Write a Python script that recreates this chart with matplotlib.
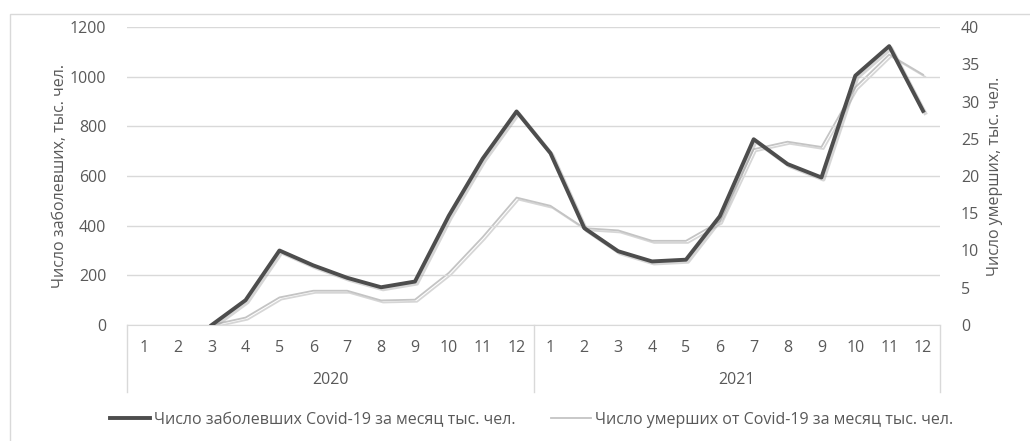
import numpy as np
import matplotlib
matplotlib.use("Agg")
import matplotlib.pyplot as plt
import matplotlib.patheffects as pe
from matplotlib.patches import Rectangle
from matplotlib.lines import Line2D
from matplotlib.transforms import blended_transform_factory

plt.rcParams['font.family'] = ['Open Sans', 'DejaVu Sans']

years = ["2020", "2021"]
months = [str(m) for m in range(1, 13)]

# monthly new cases, thousand people (left axis)
cases = [np.nan, np.nan, 0, 100, 300, 240, 190, 152, 175, 440, 670, 860,
         692, 390, 297, 256, 263, 438, 748, 648, 594, 1004, 1123, 862]
# monthly deaths, thousand people (right axis)
deaths = [np.nan, np.nan, 0, 1.0, 3.7, 4.6, 4.6, 3.3, 3.4, 7.0, 11.8, 17.1,
          16.0, 13.0, 12.7, 11.3, 11.3, 13.9, 23.6, 24.6, 23.9, 31.9, 36.3, 33.6]

label_cases = "Число заболевших Covid-19 за месяц тыс. чел."
label_deaths = "Число умерших от Covid-19 за месяц тыс. чел."

TXT = "#595959"
GRID = "#d9d9d9"
FS = 11.5
C_CASES = "#4d4d4d"
C_DEATHS = "#c4c4c4"

W, H = 1030, 441
fig = plt.figure(figsize=(W / 100, H / 100), dpi=100)
fig.patches.append(Rectangle((10 / W, -0.1), 1.2, 1 - 14 / H + 0.1,
                             transform=fig.transFigure, fill=False,
                             edgecolor="#d9d9d9", lw=1.0))

x0, x1, ytop, ybot = 127, 940, 27, 325
ax = fig.add_axes([x0 / W, 1 - ybot / H, (x1 - x0) / W, (ybot - ytop) / H])
ax2 = ax.twinx()

x = np.arange(len(cases))
ax.set_xlim(-0.5, len(cases) - 0.5)

ax.set_ylim(0, 1200)
ax.set_yticks(np.arange(0, 1201, 200))
ax2.set_ylim(0, 40)
ax2.set_yticks(np.arange(0, 41, 5))

ax.yaxis.grid(True, color=GRID, lw=1.0)
ax.set_axisbelow(True)
for a in (ax, ax2):
    for s in a.spines.values():
        s.set_visible(False)
    a.tick_params(axis="y", length=0, labelsize=FS, labelcolor=TXT, pad=15)
ax.spines["bottom"].set_visible(True)
ax.spines["bottom"].set_color(GRID)

ax.set_xticks(x)
ax.set_xticklabels(months * 2)
ax.tick_params(axis="x", length=0, labelsize=FS, labelcolor=TXT, pad=11)

shadow = [pe.SimpleLineShadow(offset=(1.5, -1.5), shadow_color="#9a9a9a", alpha=0.4), pe.Normal()]
ax2.plot(x, deaths, color=C_DEATHS, lw=1.3, path_effects=shadow, zorder=3)
ax.plot(x, cases, color=C_CASES, lw=2.8, path_effects=shadow, zorder=4)
ax.set_zorder(ax2.get_zorder() + 1)
ax.patch.set_visible(False)

ax.set_ylabel("Число заболевших, тыс. чел.", color=TXT, fontsize=FS, labelpad=1)
ax2.set_ylabel("Число умерших, тыс. чел.", color=TXT, fontsize=FS, labelpad=6)

# two-level category axis: separators and year labels
tr = blended_transform_factory(ax.transData, ax.transAxes)
drop = (392 - ybot) / (ybot - ytop)
for xb in (-0.5, 11.5, 23.5):
    ax.plot([xb, xb], [0, -drop], transform=tr, color=GRID, lw=1.0, clip_on=False)
year_y = -(380 - ybot) / (ybot - ytop)
for i, yr in enumerate(years):
    ax.text(5.5 + 12 * i, year_y, yr, transform=tr, ha="center", va="center",
            fontsize=FS, color=TXT)

handles = [Line2D([], [], color=C_CASES, lw=2.8),
           Line2D([], [], color=C_DEATHS, lw=1.3)]
fig.legend(handles, [label_cases, label_deaths], loc="center",
           bbox_to_anchor=(0.516, 1 - 420 / H), ncol=2, frameon=False,
           fontsize=FS, labelcolor=TXT, handlelength=2.5, columnspacing=2.2,
           handletextpad=0.25)

fig.savefig("out.png", dpi=100)
